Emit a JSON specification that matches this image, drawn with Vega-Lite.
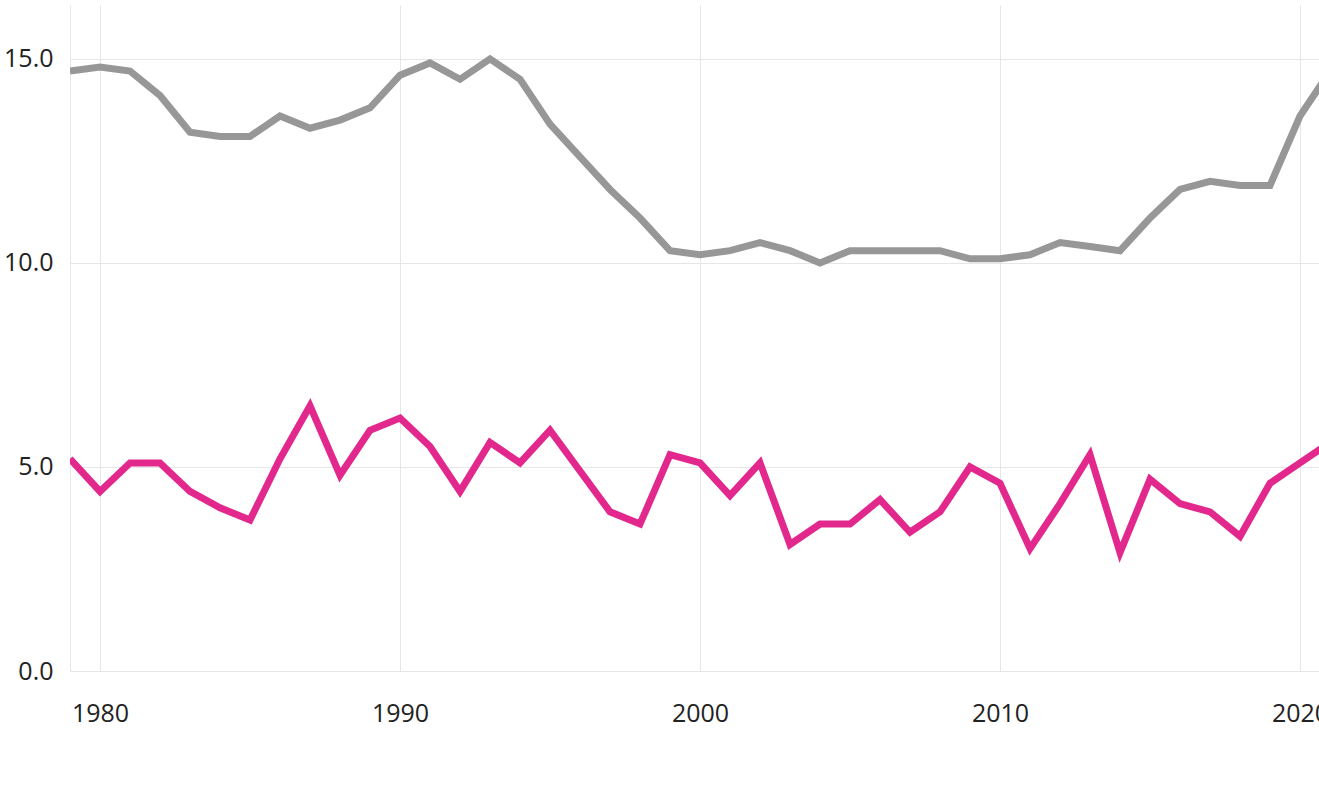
{
  "$schema": "https://vega.github.io/schema/vega-lite/v6.json",
  "autosize": {"type": "none"},
  "padding": {"left": 70, "top": 5, "right": 0, "bottom": 136},
  "width": 1249,
  "height": 666,
  "background": "white",
  "config": {
    "view": {"stroke": null},
    "font": "Open Sans",
    "axis": {
      "labelFont": "Open Sans",
      "labelFontSize": 25,
      "labelColor": "#222222",
      "gridColor": "#e6e6e6",
      "gridWidth": 1,
      "ticks": false,
      "tickSize": 0,
      "title": null
    }
  },
  "data": {
    "values": [
      {"year": 1979, "series": "A", "value": 14.7},
      {"year": 1980, "series": "A", "value": 14.8},
      {"year": 1981, "series": "A", "value": 14.7},
      {"year": 1982, "series": "A", "value": 14.1},
      {"year": 1983, "series": "A", "value": 13.2},
      {"year": 1984, "series": "A", "value": 13.1},
      {"year": 1985, "series": "A", "value": 13.1},
      {"year": 1986, "series": "A", "value": 13.6},
      {"year": 1987, "series": "A", "value": 13.3},
      {"year": 1988, "series": "A", "value": 13.5},
      {"year": 1989, "series": "A", "value": 13.8},
      {"year": 1990, "series": "A", "value": 14.6},
      {"year": 1991, "series": "A", "value": 14.9},
      {"year": 1992, "series": "A", "value": 14.5},
      {"year": 1993, "series": "A", "value": 15.0},
      {"year": 1994, "series": "A", "value": 14.5},
      {"year": 1995, "series": "A", "value": 13.4},
      {"year": 1996, "series": "A", "value": 12.6},
      {"year": 1997, "series": "A", "value": 11.8},
      {"year": 1998, "series": "A", "value": 11.1},
      {"year": 1999, "series": "A", "value": 10.3},
      {"year": 2000, "series": "A", "value": 10.2},
      {"year": 2001, "series": "A", "value": 10.3},
      {"year": 2002, "series": "A", "value": 10.5},
      {"year": 2003, "series": "A", "value": 10.3},
      {"year": 2004, "series": "A", "value": 10.0},
      {"year": 2005, "series": "A", "value": 10.3},
      {"year": 2006, "series": "A", "value": 10.3},
      {"year": 2007, "series": "A", "value": 10.3},
      {"year": 2008, "series": "A", "value": 10.3},
      {"year": 2009, "series": "A", "value": 10.1},
      {"year": 2010, "series": "A", "value": 10.1},
      {"year": 2011, "series": "A", "value": 10.2},
      {"year": 2012, "series": "A", "value": 10.5},
      {"year": 2013, "series": "A", "value": 10.4},
      {"year": 2014, "series": "A", "value": 10.3},
      {"year": 2015, "series": "A", "value": 11.1},
      {"year": 2016, "series": "A", "value": 11.8},
      {"year": 2017, "series": "A", "value": 12.0},
      {"year": 2018, "series": "A", "value": 11.9},
      {"year": 2019, "series": "A", "value": 11.9},
      {"year": 2020, "series": "A", "value": 13.6},
      {"year": 2021, "series": "A", "value": 14.7},
      {"year": 1979, "series": "B", "value": 5.2},
      {"year": 1980, "series": "B", "value": 4.4},
      {"year": 1981, "series": "B", "value": 5.1},
      {"year": 1982, "series": "B", "value": 5.1},
      {"year": 1983, "series": "B", "value": 4.4},
      {"year": 1984, "series": "B", "value": 4.0},
      {"year": 1985, "series": "B", "value": 3.7},
      {"year": 1986, "series": "B", "value": 5.2},
      {"year": 1987, "series": "B", "value": 6.5},
      {"year": 1988, "series": "B", "value": 4.8},
      {"year": 1989, "series": "B", "value": 5.9},
      {"year": 1990, "series": "B", "value": 6.2},
      {"year": 1991, "series": "B", "value": 5.5},
      {"year": 1992, "series": "B", "value": 4.4},
      {"year": 1993, "series": "B", "value": 5.6},
      {"year": 1994, "series": "B", "value": 5.1},
      {"year": 1995, "series": "B", "value": 5.9},
      {"year": 1996, "series": "B", "value": 4.9},
      {"year": 1997, "series": "B", "value": 3.9},
      {"year": 1998, "series": "B", "value": 3.6},
      {"year": 1999, "series": "B", "value": 5.3},
      {"year": 2000, "series": "B", "value": 5.1},
      {"year": 2001, "series": "B", "value": 4.3},
      {"year": 2002, "series": "B", "value": 5.1},
      {"year": 2003, "series": "B", "value": 3.1},
      {"year": 2004, "series": "B", "value": 3.6},
      {"year": 2005, "series": "B", "value": 3.6},
      {"year": 2006, "series": "B", "value": 4.2},
      {"year": 2007, "series": "B", "value": 3.4},
      {"year": 2008, "series": "B", "value": 3.9},
      {"year": 2009, "series": "B", "value": 5.0},
      {"year": 2010, "series": "B", "value": 4.6},
      {"year": 2011, "series": "B", "value": 3.0},
      {"year": 2012, "series": "B", "value": 4.1},
      {"year": 2013, "series": "B", "value": 5.3},
      {"year": 2014, "series": "B", "value": 2.9},
      {"year": 2015, "series": "B", "value": 4.7},
      {"year": 2016, "series": "B", "value": 4.1},
      {"year": 2017, "series": "B", "value": 3.9},
      {"year": 2018, "series": "B", "value": 3.3},
      {"year": 2019, "series": "B", "value": 4.6},
      {"year": 2020, "series": "B", "value": 5.1},
      {"year": 2021, "series": "B", "value": 5.6}
    ]
  },
  "mark": {"type": "line", "strokeWidth": 7, "clip": true, "strokeJoin": "miter"},
  "encoding": {
    "x": {
      "field": "year",
      "type": "quantitative",
      "scale": {"domain": [1979, 2020.633], "nice": false, "zero": false},
      "axis": {
        "values": [1980, 1990, 2000, 2010, 2020],
        "format": "d",
        "domain": false,
        "grid": true,
        "labelPadding": 30,
        "labelFlush": false,
        "labelOverlap": false
      }
    },
    "y": {
      "field": "value",
      "type": "quantitative",
      "scale": {"domain": [0, 16.32], "nice": false},
      "axis": {
        "values": [0, 5, 10, 15],
        "format": ".1f",
        "domain": true,
        "domainColor": "#e6e6e6",
        "domainWidth": 1,
        "grid": true,
        "labelPadding": 17,
        "labelBaseline": "middle"
      }
    },
    "color": {
      "field": "series",
      "type": "nominal",
      "scale": {"domain": ["A", "B"], "range": ["#979797", "#e2288d"]},
      "legend": null
    }
  }
}
